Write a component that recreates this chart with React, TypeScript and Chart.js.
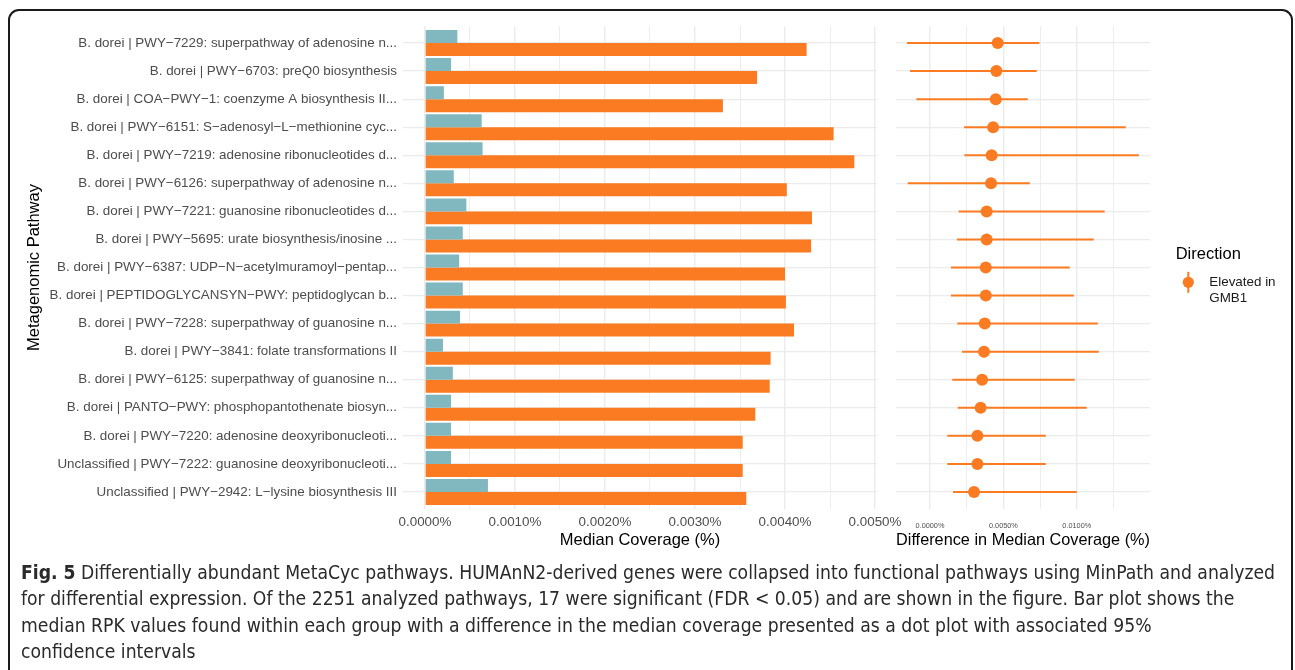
import React, { useEffect, useLayoutEffect, useRef } from "react";
import { Chart, registerables } from "chart.js";

Chart.register(...registerables);

// Pathway labels, top to bottom
const pathways = [
  "B. dorei | PWY\u22127229: superpathway of adenosine n...",
  "B. dorei | PWY\u22126703: preQ0 biosynthesis",
  "B. dorei | COA\u2212PWY\u22121: coenzyme A biosynthesis II...",
  "B. dorei | PWY\u22126151: S\u2212adenosyl\u2212L\u2212methionine cyc...",
  "B. dorei | PWY\u22127219: adenosine ribonucleotides d...",
  "B. dorei | PWY\u22126126: superpathway of adenosine n...",
  "B. dorei | PWY\u22127221: guanosine ribonucleotides d...",
  "B. dorei | PWY\u22125695: urate biosynthesis/inosine ...",
  "B. dorei | PWY\u22126387: UDP\u2212N\u2212acetylmuramoyl\u2212pentap...",
  "B. dorei | PEPTIDOGLYCANSYN\u2212PWY: peptidoglycan b...",
  "B. dorei | PWY\u22127228: superpathway of guanosine n...",
  "B. dorei | PWY\u22123841: folate transformations II",
  "B. dorei | PWY\u22126125: superpathway of guanosine n...",
  "B. dorei | PANTO\u2212PWY: phosphopantothenate biosyn...",
  "B. dorei | PWY\u22127220: adenosine deoxyribonucleoti...",
  "Unclassified | PWY\u22127222: guanosine deoxyribonucleoti...",
  "Unclassified | PWY\u22122942: L\u2212lysine biosynthesis III",
];

// Median coverage (%) per group
const otherGroupMedian = [
  0.00036, 0.00029, 0.00021, 0.00063, 0.00064, 0.00032, 0.00046, 0.00042, 0.00038,
  0.00042, 0.00039, 0.0002, 0.00031, 0.00029, 0.00029, 0.00029, 0.0007,
];
const gmb1Median = [
  0.00424, 0.00369, 0.00331, 0.00454, 0.00477, 0.00402, 0.0043, 0.00429, 0.004,
  0.00401, 0.0041, 0.00384, 0.00383, 0.00367, 0.00353, 0.00353, 0.00357,
];

// Difference in median coverage (%) with 95% confidence interval
const diffEstimate = [
  0.00461, 0.00452, 0.00448, 0.0043, 0.0042, 0.00416, 0.00386, 0.00386, 0.0038,
  0.0038, 0.00373, 0.00368, 0.00355, 0.00345, 0.00323, 0.00323, 0.003,
];
const diffLower = [
  -0.00157, -0.00136, -0.00093, 0.00232, 0.00234, -0.00152, 0.00195, 0.00184, 0.00143,
  0.00143, 0.00186, 0.00218, 0.00152, 0.00189, 0.00118, 0.00118, 0.00157,
];
const diffUpper = [
  0.00745, 0.00727, 0.00666, 0.01334, 0.01423, 0.0068, 0.0119, 0.01116, 0.00952,
  0.0098, 0.01143, 0.0115, 0.00986, 0.01068, 0.00789, 0.00789, 0.01,
];

// Axis breaks (major breaks get labels, the others are minor grid lines)
const coverageBreaks = [0, 0.0005, 0.001, 0.0015, 0.002, 0.0025, 0.003, 0.0035, 0.004, 0.0045, 0.005];
const coverageLabelStep = 0.001;
const diffBreaks = [0, 0.0025, 0.005, 0.0075, 0.01, 0.0125];
const diffLabelStep = 0.005;

const legendTitle = "Direction";
const legendLabel = ["Elevated in", "GMB1"];

const TEAL = "#81B8C0";
const ORANGE = "#FA7B22";
const GRID = "#EBEBEB";
const AXIS_TEXT = "#4D4D4D";
const FONT = "'Liberation Sans', Arial, Helvetica, sans-serif";

const CANVAS_H = 560;
const PANEL_TOP = 26.2;
const PANEL_BOTTOM = 508.8;

const isMultiple = (v: number, step: number) => Math.abs(v / step - Math.round(v / step)) < 1e-6;
const pct = (v: number) => `${v.toFixed(4)}%`;
const rows = pathways.map((_, i) => i + 1);

// Keep the panel edges fixed: no extra room for overhanging tick labels
function noLabelPadding(scale: any) {
  scale.paddingLeft = 0;
  scale.paddingRight = 0;
  scale.paddingTop = 0;
  scale.paddingBottom = 0;
}

function rowAxis(showLabels: boolean, width: number, title?: string) {
  return {
    type: "linear" as const,
    reverse: true,
    offset: false,
    min: 0.4,
    max: pathways.length + 0.6,
    afterBuildTicks: (scale: any) => {
      scale.ticks = rows.map((v) => ({ value: v }));
    },
    afterFit: (scale: any) => {
      scale.width = width;
      noLabelPadding(scale);
    },
    border: { display: false },
    grid: { color: GRID, lineWidth: 1.3, drawTicks: false, offset: false },
    ticks: {
      display: showLabels,
      autoSkip: false,
      padding: 6,
      color: AXIS_TEXT,
      font: { family: FONT, size: 13.4 },
      callback: (v: any) => pathways[Number(v) - 1] ?? "",
    },
    title: title
      ? {
          display: true,
          text: title,
          color: "#000",
          font: { family: FONT, size: 16.5 },
          padding: { top: 25, bottom: 0 },
        }
      : { display: false },
  };
}

function valueAxis(breaks: number[], labelStep: number, min: number, max: number, fontSize: number, tickPad: number, title: string) {
  return {
    type: "linear" as const,
    min,
    max,
    offset: false,
    afterBuildTicks: (scale: any) => {
      scale.ticks = breaks.map((v) => ({ value: v }));
    },
    afterFit: (scale: any) => {
      scale.height = CANVAS_H - PANEL_BOTTOM;
      noLabelPadding(scale);
    },
    border: { display: false },
    grid: {
      color: GRID,
      drawTicks: false,
      offset: false,
      lineWidth: (ctx: any) => (ctx.tick && isMultiple(ctx.tick.value, labelStep) ? 1.4 : 0.9),
    },
    ticks: {
      autoSkip: false,
      maxRotation: 0,
      padding: tickPad,
      color: AXIS_TEXT,
      font: { family: FONT, size: fontSize },
      callback: (v: any) => (isMultiple(Number(v), labelStep) ? pct(Number(v)) : ""),
    },
    title: {
      display: true,
      text: title,
      color: "#000",
      font: { family: FONT, size: 16.5 },
      padding: { top: 0, bottom: 10.1 },
    },
  };
}

// Horizontal confidence-interval segments drawn under the points
const intervalPlugin = {
  id: "intervals",
  beforeDatasetsDraw(chart: any) {
    const { ctx, scales } = chart;
    ctx.save();
    ctx.strokeStyle = ORANGE;
    ctx.lineWidth = 2;
    rows.forEach((r, i) => {
      const y = scales.y.getPixelForValue(r);
      ctx.beginPath();
      ctx.moveTo(scales.x.getPixelForValue(diffLower[i]), y);
      ctx.lineTo(scales.x.getPixelForValue(diffUpper[i]), y);
      ctx.stroke();
    });
    ctx.restore();
  },
};

// ggplot-style legend with a point-range key
const legendPlugin = {
  id: "directionLegend",
  afterDraw(chart: any) {
    const { ctx, chartArea } = chart;
    const x0 = chartArea.right + 25.7;
    ctx.save();
    ctx.fillStyle = "#000";
    ctx.textBaseline = "middle";
    ctx.textAlign = "left";
    ctx.font = `16.5px ${FONT}`;
    ctx.fillText(legendTitle, x0, 254);
    const kx = x0 + 12.6;
    const ky = 282.3;
    ctx.strokeStyle = ORANGE;
    ctx.lineWidth = 2;
    ctx.beginPath();
    ctx.moveTo(kx, ky - 10.5);
    ctx.lineTo(kx, ky + 10.5);
    ctx.stroke();
    ctx.fillStyle = ORANGE;
    ctx.beginPath();
    ctx.arc(kx, ky, 5.6, 0, Math.PI * 2);
    ctx.fill();
    ctx.fillStyle = "#1A1A1A";
    ctx.font = `13.4px ${FONT}`;
    legendLabel.forEach((t, i) => ctx.fillText(t, x0 + 33.6, 282.7 + i * 15.6));
    ctx.restore();
  },
};

const LEFT_W = 915;

function CoverageChart() {
  const ref = useRef<HTMLCanvasElement>(null);
  useEffect(() => {
    const chart = new Chart(ref.current!, {
      type: "bar",
      data: {
        datasets: [
          {
            label: "Other",
            data: otherGroupMedian.map((v, i) => ({ x: v, y: rows[i] })),
            backgroundColor: TEAL,
            borderWidth: 0,
          },
          {
            label: "GMB1",
            data: gmb1Median.map((v, i) => ({ x: v, y: rows[i] })),
            backgroundColor: ORANGE,
            borderWidth: 0,
          },
        ],
      },
      options: {
        indexAxis: "y",
        responsive: false,
        animation: false,
        events: [],
        layout: { padding: { left: 0, right: LEFT_W - 877, top: PANEL_TOP, bottom: 0 } },
        datasets: { bar: { categoryPercentage: 0.925, barPercentage: 1 } },
        plugins: { legend: { display: false }, tooltip: { enabled: false } },
        scales: {
          x: valueAxis(coverageBreaks, coverageLabelStep, -0.000244, 0.005022, 13.4, 5.2, "Median Coverage (%)"),
          y: rowAxis(true, 403, "Metagenomic Pathway"),
        },
      } as any,
    });
    return () => chart.destroy();
  }, []);
  return <canvas ref={ref} width={LEFT_W} height={CANVAS_H} style={{ position: "absolute", left: 0, top: 0, width: LEFT_W, height: CANVAS_H }} />;
}

function DifferenceChart() {
  const ref = useRef<HTMLCanvasElement>(null);
  useEffect(() => {
    const chart = new Chart(ref.current!, {
      type: "scatter",
      data: {
        datasets: [
          {
            label: "Elevated in GMB1",
            data: diffEstimate.map((v, i) => ({ x: v, y: rows[i] })),
            backgroundColor: ORANGE,
            borderWidth: 0,
            pointRadius: 6,
          },
        ],
      },
      options: {
        responsive: false,
        animation: false,
        events: [],
        layout: { padding: { left: 11, right: 140, top: PANEL_TOP, bottom: 0 } },
        plugins: { legend: { display: false }, tooltip: { enabled: false } },
        scales: {
          x: valueAxis(diffBreaks, diffLabelStep, -0.002318, 0.01499, 7.3, 12.5, "Difference in Median Coverage (%)"),
          y: rowAxis(false, 0),
        },
      } as any,
      plugins: [intervalPlugin, legendPlugin],
    });
    return () => chart.destroy();
  }, []);
  return <canvas ref={ref} width={405} height={CANVAS_H} style={{ position: "absolute", left: 885, top: 0, width: 405, height: CANVAS_H }} />;
}

const captionLines = [
  "Differentially abundant MetaCyc pathways. HUMAnN2-derived genes were collapsed into functional pathways using MinPath and analyzed",
  "for differential expression. Of the 2251 analyzed pathways, 17 were significant (FDR < 0.05) and are shown in the figure. Bar plot shows the",
  "median RPK values found within each group with a difference in the median coverage presented as a dot plot with associated 95%",
  "confidence intervals",
];

function Caption() {
  const boxRef = useRef<HTMLDivElement>(null);
  const firstRef = useRef<HTMLSpanElement>(null);
  useLayoutEffect(() => {
    const w = firstRef.current!.getBoundingClientRect().width;
    if (w > 0) boxRef.current!.style.transform = `scaleX(${1254 / w})`;
  }, []);
  return (
    <div
      ref={boxRef}
      style={{
        position: "absolute",
        left: 21,
        top: 559,
        transformOrigin: "0 0",
        fontFamily: "'Liberation Sans Narrow', 'DejaVu Sans Condensed', 'Open Sans', sans-serif",
        fontSize: 20,
        lineHeight: "26.3px",
        color: "#2A2A2A",
        whiteSpace: "nowrap",
      }}
    >
      {captionLines.map((line, i) => (
        <div key={i}>
          {i === 0 ? (
            <span ref={firstRef}>
              <b>Fig. 5</b> {line}
            </span>
          ) : (
            line
          )}
        </div>
      ))}
    </div>
  );
}

export default function App() {
  return (
    <div style={{ position: "fixed", left: 0, top: 0, width: 1295, height: 670, overflow: "hidden", background: "#fff" }}>
      <div
        style={{
          position: "absolute",
          left: 8,
          top: 9,
          width: 1285,
          height: 720,
          border: "2px solid #1A1A1A",
          borderRadius: 11,
          boxSizing: "border-box",
        }}
      />
      <CoverageChart />
      <DifferenceChart />
      <Caption />
    </div>
  );
}
